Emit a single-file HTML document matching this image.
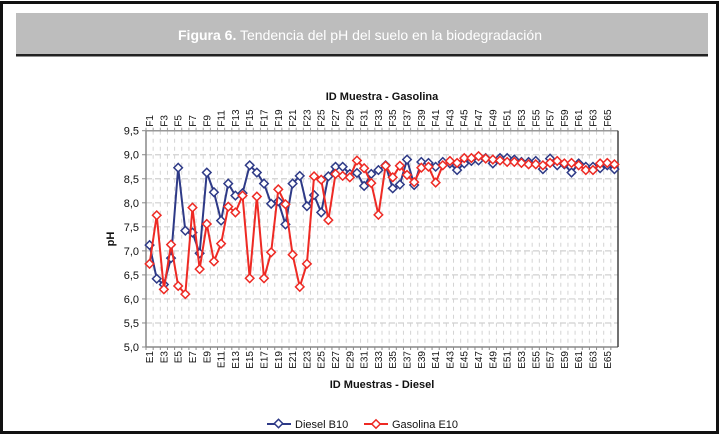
<!DOCTYPE html>
<html><head><meta charset="utf-8"><style>
body{margin:0;background:#fff;width:721px;height:435px;overflow:hidden;font-family:"Liberation Sans",sans-serif}
</style></head><body>
<svg id="chart" width="721" height="435" xmlns="http://www.w3.org/2000/svg" font-family="Liberation Sans, sans-serif">
<rect x="1.5" y="2.5" width="716" height="430" fill="#fff" stroke="#111" stroke-width="3"/>
<rect x="16" y="13" width="692" height="42" fill="#bdbdbd"/>
<rect x="16" y="54" width="692" height="2.5" fill="#222"/>
<text x="360" y="40" text-anchor="middle" fill="#fff" font-size="14"><tspan font-weight="bold">Figura 6.</tspan>  Tendencia del pH del suelo en la biodegradación</text>
<text x="382" y="100" text-anchor="middle" font-size="11" font-weight="bold" fill="#111">ID Muestra - Gasolina</text>
<text x="382" y="388" text-anchor="middle" font-size="11" font-weight="bold" fill="#111">ID Muestras - Diesel</text>
<text x="0" y="0" transform="translate(114,239) rotate(-90)" text-anchor="middle" font-size="11" font-weight="bold" fill="#111">pH</text>
<g id="grid"></g><g id="axes"></g><g id="series"></g>
<g>
<line x1="267" y1="424" x2="291" y2="424" stroke="#2e3a87" stroke-width="2"/>
<rect x="275.5" y="420.5" width="6" height="6" transform="rotate(45 278.5 423.5)" fill="#fff" stroke="#2e3a87" stroke-width="1.5"/>
<text x="295" y="428" font-size="11" fill="#111">Diesel B10</text>
<line x1="364" y1="424" x2="388" y2="424" stroke="#ee2a24" stroke-width="2"/>
<rect x="373" y="421" width="6" height="6" transform="rotate(45 376 424)" fill="#fff" stroke="#ee2a24" stroke-width="1.5"/>
<text x="392" y="428" font-size="11" fill="#111">Gasolina E10</text>
</g>
</svg>
<script>
const diesel=[7.12,6.42,6.3,6.85,8.73,7.42,7.38,6.95,8.63,8.22,7.63,8.4,8.15,8.2,8.78,8.63,8.4,7.98,8.03,7.55,8.4,8.56,7.93,8.16,7.8,8.55,8.75,8.75,8.6,8.62,8.35,8.6,8.68,8.78,8.3,8.38,8.9,8.37,8.85,8.83,8.75,8.85,8.82,8.68,8.82,8.87,8.88,8.93,8.82,8.93,8.93,8.9,8.85,8.85,8.87,8.7,8.92,8.78,8.8,8.63,8.82,8.75,8.75,8.72,8.78,8.7];
const gasolina=[6.73,7.74,6.2,7.13,6.27,6.1,7.9,6.62,7.56,6.78,7.15,7.92,7.8,8.15,6.43,8.13,6.43,6.97,8.28,7.97,6.92,6.25,6.73,8.55,8.48,7.64,8.6,8.56,8.53,8.88,8.72,8.41,7.75,8.77,8.53,8.77,8.58,8.43,8.73,8.75,8.42,8.78,8.87,8.83,8.93,8.93,8.97,8.92,8.9,8.88,8.85,8.85,8.83,8.8,8.8,8.78,8.83,8.87,8.82,8.83,8.78,8.68,8.68,8.82,8.83,8.8];
const yTicks=[5.0,5.5,6.0,6.5,7.0,7.5,8.0,8.5,9.0,9.5];
const bottomCats=diesel.map((_,i)=>'E'+(i+1));
const topCats=gasolina.map((_,i)=>'F'+(i+1));
const L=146,R=618,T=130.7,B=347,ymin=5,ymax=9.5;
const n=diesel.length,step=(R-L)/n;
const xs=i=>L+step*(i+0.5);
const ys=v=>B-(v-ymin)/(ymax-ymin)*(B-T);
const NS='http://www.w3.org/2000/svg';
function mk(tag,attrs,parent,txt){const e=document.createElementNS(NS,tag);for(const k in attrs)e.setAttribute(k,attrs[k]);if(txt!==undefined)e.textContent=txt;parent.appendChild(e);return e;}
const grid=document.getElementById('grid'),axes=document.getElementById('axes'),ser=document.getElementById('series');
for(let i=0;i<n;i++){const x=L+step*(i+1);
 if(i<n-1){const g=mk('line',{x1:x,y1:T,x2:x,y2:B,stroke:'#d4d4d4','stroke-width':1,'stroke-dasharray':'4,4'},grid);
 
 }}
yTicks.forEach(v=>{const y=ys(v);
 if(v>ymin&&v<ymax){const g=mk('line',{x1:L,y1:y,x2:R,y2:y,stroke:'#d0d0d0','stroke-width':1.2,'stroke-dasharray':'6,3'},grid);
 
 }
 mk('line',{x1:L-4,y1:y,x2:L,y2:y,stroke:'#888'},axes);
 const t=mk('text',{x:L-7,y:y+4,'text-anchor':'end','font-size':11,fill:'#111'},axes,v.toFixed(1).replace('.',','));
 
 
});
mk('line',{x1:L,y1:T,x2:R,y2:T,stroke:'#999','stroke-width':1.5},axes);
mk('line',{x1:L,y1:T,x2:L,y2:B,stroke:'#888','stroke-width':1.5},axes);
mk('line',{x1:L,y1:B,x2:R,y2:B,stroke:'#888','stroke-width':1.5},axes);
mk('line',{x1:R,y1:T,x2:R,y2:B,stroke:'#444','stroke-width':1.5},axes);
for(let i=0;i<n;i++){const x=xs(i);
 mk('line',{x1:L+step*i,y1:B,x2:L+step*i,y2:B+3,stroke:'#888'},axes);
 mk('line',{x1:L+step*i,y1:T,x2:L+step*i,y2:T-3,stroke:'#999'},axes);
 if(i%2===0){
  const b=mk('text',{transform:`translate(${x+3.5},${B+4}) rotate(-90)`,'text-anchor':'end','font-size':10,fill:'#111'},axes,bottomCats[i]);
  
  
  const t=mk('text',{transform:`translate(${x+3.5},${T-4}) rotate(-90)`,'text-anchor':'start','font-size':10,fill:'#111'},axes,topCats[i]);
  
  
 }}
function drawSeries(data,color,name){
 const p=mk('polyline',{points:data.map((v,i)=>xs(i)+','+ys(v)).join(' '),fill:'none',stroke:color,'stroke-width':2},ser);
 
 
 data.forEach((v,i)=>{const x=xs(i),y=ys(v);
  const m=mk('rect',{x:x-3,y:y-3,width:6,height:6,transform:`rotate(45 ${x} ${y})`,fill:'#fff',stroke:color,'stroke-width':1.5},ser);
  
  });
}
drawSeries(diesel,'#2e3a87','diesel-b10');
drawSeries(gasolina,'#ee2a24','gasolina-e10');
</script>
</body></html>
